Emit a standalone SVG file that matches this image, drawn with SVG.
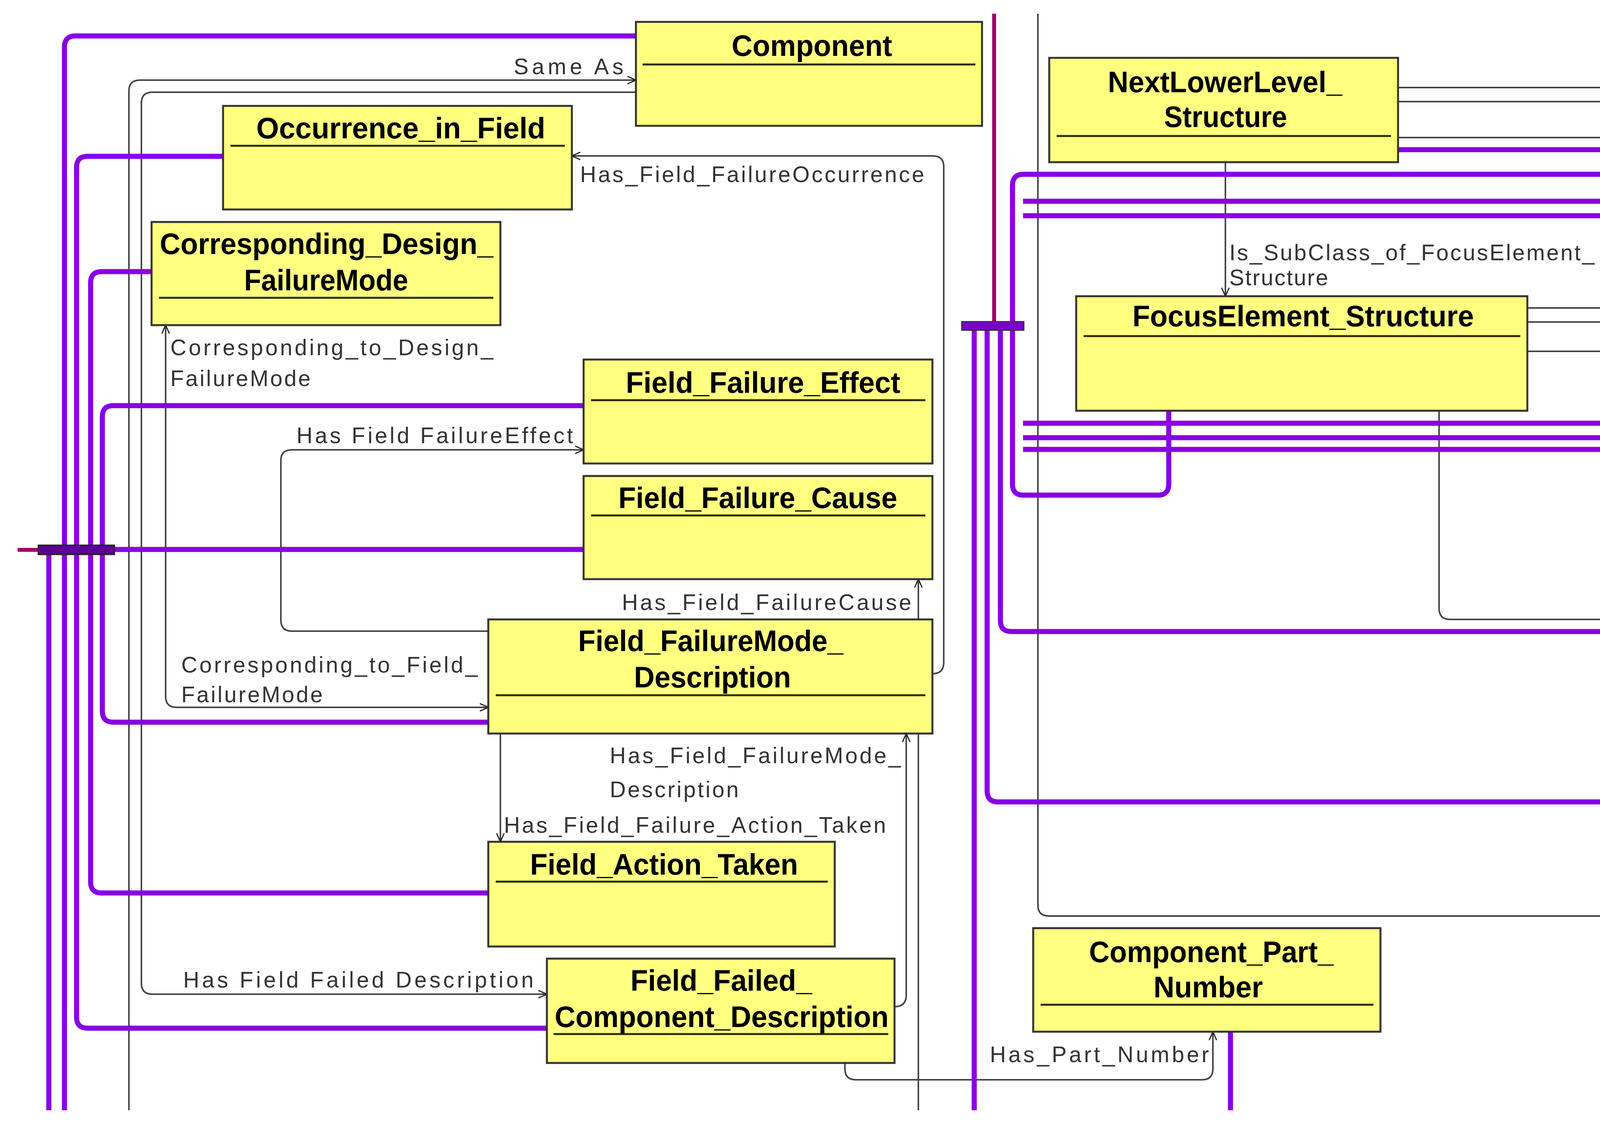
<svg xmlns="http://www.w3.org/2000/svg" width="4215" height="2912" viewBox="0 0 4215 2912">
<defs>
<marker id="arr" viewBox="0 0 20 20" refX="19" refY="10" markerWidth="24" markerHeight="24" markerUnits="userSpaceOnUse" orient="auto-start-reverse">
<path d="M1,2 L19,10 L1,18" fill="none" stroke="#222" stroke-width="2.5"/>
</marker>
</defs>
<style>
.box{fill:#ffff80;stroke:#333;stroke-width:5}
.sep{stroke:#2a2a00;stroke-width:5}
.t{font-family:"Liberation Sans",Arial,sans-serif;font-weight:bold;font-size:76px;fill:#000}
.l{font-family:"Liberation Sans",Arial,sans-serif;font-size:57px;fill:#333}
.p{fill:none;stroke:#8800e6;stroke-width:13}
.g{fill:none;stroke:#444;stroke-width:4}
.dm{fill:none;stroke:#a0006e;stroke-width:10}
</style>
<rect width="4215" height="2912" fill="#fff"/>
<g id="connectors">
<path class="g" d="M330,2841 V233 Q330,205 358,205 H1628" marker-end="url(#arr)"/>
<path class="g" d="M1628,236 H390 Q362,236 362,264 V2516 Q362,2544 390,2544 H1400" marker-end="url(#arr)"/>
<path class="g" d="M2387,1724 Q2416,1724 2416,1695 V427 Q2416,399 2388,399 H1464" marker-end="url(#arr)"/>
<path class="g" d="M1250,1615 H747 Q719,1615 719,1587 V1179 Q719,1151 747,1151 H1494" marker-end="url(#arr)"/>
<path class="g" d="M424,832 V1782 Q424,1810 452,1810 H1250" marker-start="url(#arr)" marker-end="url(#arr)"/>
<path class="g" d="M2351,1585 V1482" marker-end="url(#arr)"/>
<path class="g" d="M2351,1877 V2841"/>
<path class="g" d="M2290,2576 Q2320,2576 2320,2546 V1877" marker-end="url(#arr)"/>
<path class="g" d="M1281,1877 V2154" marker-end="url(#arr)"/>
<path class="g" d="M2163,2720 V2735 Q2163,2763 2191,2763 H3077 Q3105,2763 3105,2735 V2640" marker-end="url(#arr)"/>
<path class="g" d="M3137,415 V758" marker-end="url(#arr)"/>
<path class="g" d="M2657,35 V2316 Q2657,2344 2685,2344 H4154"/>
<path class="g" d="M3684,1051 V1557 Q3684,1585 3712,1585 H4154"/>
<path class="g" d="M3579,224 H4154 M3579,260 H4154 M3579,352 H4154"/>
<path class="g" d="M3910,788 H4154 M3910,824 H4154 M3910,899 H4154"/>
<path class="p" d="M165,2841 V120 Q165,92 193,92 H1628"/>
<path class="p" d="M571,400 H224 Q196,400 196,428 V2603 Q196,2631 224,2631 H1400"/>
<path class="p" d="M388,695 H260 Q232,695 232,723 V2257 Q232,2285 260,2285 H1250"/>
<path class="p" d="M1494,1038 H290 Q262,1038 262,1066 V1820 Q262,1848 290,1848 H1250"/>
<path class="p" d="M1494,1406 H98"/>
<path class="p" d="M125,1407 V2841"/>
<path class="dm" d="M45,1407 H100"/>
<rect x="98" y="1395" width="195" height="24" fill="#5a0095" stroke="#222" stroke-width="3"/>
<path class="p" d="M3579,383 H4154"/>
<path class="p" d="M4154,446 H2620 Q2592,446 2592,474 V1239 Q2592,1267 2620,1267 H2964 Q2992,1267 2992,1239 V1051"/>
<path class="p" d="M2619,515 H4154 M2619,552 H4154"/>
<path class="p" d="M2619,1083 H4154 M2619,1120 H4154 M2619,1150 H4154"/>
<path class="p" d="M2561,834 V1588 Q2561,1616 2589,1616 H4154"/>
<path class="p" d="M2527,834 V2024 Q2527,2052 2555,2052 H4154"/>
<path class="p" d="M2494,834 V2841"/>
<path class="p" d="M3150,2640 V2841"/>
<path class="dm" d="M2545,35 V826"/>
<rect x="2462" y="823" width="159" height="22" fill="#7a00d0" stroke="#333" stroke-width="3"/>
<text class="l" x="1315" y="190" textLength="281" lengthAdjust="spacing">Same As</text>
<text class="l" x="1485" y="466" textLength="881" lengthAdjust="spacing">Has_Field_FailureOccurrence</text>
<text class="l" x="436" y="909" textLength="827" lengthAdjust="spacing">Corresponding_to_Design_</text>
<text class="l" x="436" y="988" textLength="359" lengthAdjust="spacing">FailureMode</text>
<text class="l" x="3147" y="666" textLength="935" lengthAdjust="spacing">Is_SubClass_of_FocusElement_</text>
<text class="l" x="3147" y="730" textLength="253" lengthAdjust="spacing">Structure</text>
<text class="l" x="759" y="1134" textLength="708" lengthAdjust="spacing">Has Field FailureEffect</text>
<text class="l" x="1592" y="1561" textLength="741" lengthAdjust="spacing">Has_Field_FailureCause</text>
<text class="l" x="464" y="1721" textLength="759" lengthAdjust="spacing">Corresponding_to_Field_</text>
<text class="l" x="464" y="1797" textLength="362" lengthAdjust="spacing">FailureMode</text>
<text class="l" x="1561" y="1953" textLength="745" lengthAdjust="spacing">Has_Field_FailureMode_</text>
<text class="l" x="1561" y="2040" textLength="330" lengthAdjust="spacing">Description</text>
<text class="l" x="1290" y="2131" textLength="978" lengthAdjust="spacing">Has_Field_Failure_Action_Taken</text>
<text class="l" x="469" y="2527" textLength="897" lengthAdjust="spacing">Has Field Failed Description</text>
<text class="l" x="2534" y="2718" textLength="561" lengthAdjust="spacing">Has_Part_Number</text>
</g>
<g id="Component">
<rect class="box" x="1628" y="56" width="886" height="266"/>
<line class="sep" x1="1645" y1="165" x2="2497" y2="165"/>
<text class="t" x="1873" y="143" textLength="411" lengthAdjust="spacingAndGlyphs">Component</text>
</g>
<g id="Occurrence_in_Field">
<rect class="box" x="571" y="271" width="893" height="265"/>
<line class="sep" x1="590" y1="373" x2="1446" y2="373"/>
<text class="t" x="656" y="354" textLength="740" lengthAdjust="spacingAndGlyphs">Occurrence_in_Field</text>
</g>
<g id="Corresponding_Design_FailureMode">
<rect class="box" x="388" y="568" width="893" height="264"/>
<line class="sep" x1="407" y1="762" x2="1263" y2="762"/>
<text class="t" x="409" y="650" textLength="854" lengthAdjust="spacingAndGlyphs">Corresponding_Design_</text>
<text class="t" x="625" y="743" textLength="420" lengthAdjust="spacingAndGlyphs">FailureMode</text>
</g>
<g id="Field_Failure_Effect">
<rect class="box" x="1494" y="920" width="893" height="266"/>
<line class="sep" x1="1513" y1="1024" x2="2369" y2="1024"/>
<text class="t" x="1602" y="1005" textLength="703" lengthAdjust="spacingAndGlyphs">Field_Failure_Effect</text>
</g>
<g id="Field_Failure_Cause">
<rect class="box" x="1494" y="1218" width="893" height="264"/>
<line class="sep" x1="1513" y1="1319" x2="2369" y2="1319"/>
<text class="t" x="1583" y="1300" textLength="714" lengthAdjust="spacingAndGlyphs">Field_Failure_Cause</text>
</g>
<g id="Field_FailureMode_Description">
<rect class="box" x="1250" y="1585" width="1137" height="292"/>
<line class="sep" x1="1269" y1="1779" x2="2369" y2="1779"/>
<text class="t" x="1480" y="1666" textLength="679" lengthAdjust="spacingAndGlyphs">Field_FailureMode_</text>
<text class="t" x="1623" y="1759" textLength="402" lengthAdjust="spacingAndGlyphs">Description</text>
</g>
<g id="Field_Action_Taken">
<rect class="box" x="1250" y="2154" width="887" height="268"/>
<line class="sep" x1="1269" y1="2256" x2="2119" y2="2256"/>
<text class="t" x="1357" y="2238" textLength="686" lengthAdjust="spacingAndGlyphs">Field_Action_Taken</text>
</g>
<g id="Field_Failed_Component_Description">
<rect class="box" x="1400" y="2453" width="890" height="267"/>
<line class="sep" x1="1417" y1="2646" x2="2274" y2="2646"/>
<text class="t" x="1614" y="2535" textLength="465" lengthAdjust="spacingAndGlyphs">Field_Failed_</text>
<text class="t" x="1420" y="2628" textLength="855" lengthAdjust="spacingAndGlyphs">Component_Description</text>
</g>
<g id="NextLowerLevel_Structure">
<rect class="box" x="2686" y="148" width="893" height="267"/>
<line class="sep" x1="2705" y1="348" x2="3561" y2="348"/>
<text class="t" x="2836" y="236" textLength="600" lengthAdjust="spacingAndGlyphs">NextLowerLevel_</text>
<text class="t" x="2980" y="325" textLength="315" lengthAdjust="spacingAndGlyphs">Structure</text>
</g>
<g id="FocusElement_Structure">
<rect class="box" x="2755" y="758" width="1155" height="293"/>
<line class="sep" x1="2774" y1="860" x2="3892" y2="860"/>
<text class="t" x="2899" y="835" textLength="874" lengthAdjust="spacingAndGlyphs">FocusElement_Structure</text>
</g>
<g id="Component_Part_Number">
<rect class="box" x="2645" y="2375" width="889" height="265"/>
<line class="sep" x1="2664" y1="2571" x2="3516" y2="2571"/>
<text class="t" x="2788" y="2462" textLength="626" lengthAdjust="spacingAndGlyphs">Component_Part_</text>
<text class="t" x="2953" y="2552" textLength="280" lengthAdjust="spacingAndGlyphs">Number</text>
</g>
</svg>
